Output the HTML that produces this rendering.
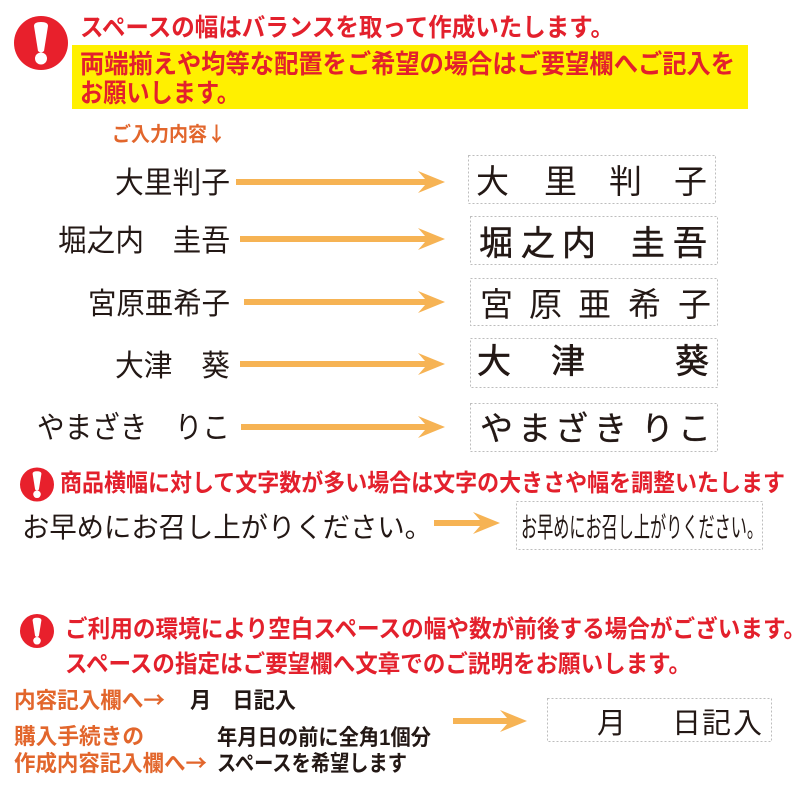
<!DOCTYPE html>
<html lang="ja"><head><meta charset="utf-8"><title>スペースの幅</title>
<style>
html,body{margin:0;padding:0;background:#fff}
svg{display:block}
text{font-family:"Liberation Sans","Noto Sans CJK JP",sans-serif;white-space:pre}
.r{fill:#e3202c;font-weight:700}
.o{fill:#e2662c;font-weight:700}
.k{fill:#231815}
.b{fill:#231815;font-weight:700}
.a{font-family:"Noto Sans CJK JP",sans-serif}
.box{fill:#fff;stroke:#bdbdbd;stroke-width:1;stroke-dasharray:2 2}
.ar{fill:#f6b354}
</style></head><body>
<svg width="800" height="800" viewBox="0 0 800 800" xmlns="http://www.w3.org/2000/svg">
<defs>
<g id="ex"><circle cx="0" cy="0" r="27" fill="#e8202c"/><path d="M-7,-17 Q-7,-21 0,-21 Q7,-21 7,-17 L3,8 Q0,11 -3,8 Z" fill="#fff"/><circle cx="0" cy="15.500" r="6" fill="#fff"/></g>
</defs>

<use href="#ex" transform="translate(41,43)"/>
<text class="r" x="80" y="36" font-size="25" textLength="534" lengthAdjust="spacingAndGlyphs">スペースの幅はバランスを取って作成いたします。</text>
<rect x="72" y="45" width="676" height="64" fill="#fff000"/>
<text class="r" x="80" y="73" font-size="26" textLength="655" lengthAdjust="spacingAndGlyphs">両端揃えや均等な配置をご希望の場合はご要望欄へご記入を</text>
<text class="r" x="80" y="102" font-size="26" textLength="160" lengthAdjust="spacingAndGlyphs">お願いします。</text>
<text class="o" x="112" y="141" font-size="20" textLength="114" lengthAdjust="spacingAndGlyphs">ご入力内容<tspan class="a">↓</tspan></text>

<!-- left labels -->
<text class="k" x="115" y="193" font-size="30" textLength="115" lengthAdjust="spacingAndGlyphs">大里判子</text>
<text class="k" x="58" y="251" font-size="30" textLength="172" lengthAdjust="spacingAndGlyphs">堀之内　圭吾</text>
<text class="k" x="88" y="314" font-size="30" textLength="142" lengthAdjust="spacingAndGlyphs">宮原亜希子</text>
<text class="k" x="115" y="376" font-size="30" textLength="115" lengthAdjust="spacingAndGlyphs">大津　葵</text>
<text class="k" x="37" y="438" font-size="30" textLength="193" lengthAdjust="spacingAndGlyphs">やまざき　りこ</text>

<!-- arrows -->
<path class="ar" d="M236,179 H425 L418,171 L445,182 L418,193 L425,185 H236 Z"/>
<path class="ar" d="M240,236 H425 L418,228 L445,239 L418,250 L425,242 H240 Z"/>
<path class="ar" d="M244,299 H425 L418,291 L445,302 L418,313 L425,305 H244 Z"/>
<path class="ar" d="M240,361 H425 L418,353 L445,364 L418,375 L425,367 H240 Z"/>
<path class="ar" d="M241,424 H425 L418,416 L445,427 L418,438 L425,430 H241 Z"/>
<path class="ar" d="M434,520 H480 L473,512 L500,523 L473,534 L480,526 H434 Z"/>
<path class="ar" d="M453,718 H507 L500,710 L527,721 L500,732 L507,724 H453 Z"/>

<!-- boxes -->
<rect class="box" x="468.500" y="155.500" width="247" height="48"/>
<rect class="box" x="470.500" y="216.500" width="247" height="48"/>
<rect class="box" x="470.500" y="278.500" width="247" height="47"/>
<rect class="box" x="470.500" y="338.500" width="247" height="49"/>
<rect class="box" x="470.500" y="403.500" width="247" height="48"/>
<rect class="box" x="516.500" y="501.500" width="246" height="48"/>
<rect class="box" x="547.500" y="698.500" width="224" height="43"/>

<!-- box text -->
<text class="k" y="193" font-size="33"><tspan x="476">大</tspan><tspan x="544">里</tspan><tspan x="609">判</tspan><tspan x="674">子</tspan></text>
<text class="k" y="255" font-size="34" stroke="#231815" stroke-width=".5"><tspan x="479">堀</tspan><tspan x="521">之</tspan><tspan x="562">内</tspan><tspan x="631">圭</tspan><tspan x="673">吾</tspan></text>
<text class="k" y="316" font-size="33"><tspan x="480">宮</tspan><tspan x="529">原</tspan><tspan x="578">亜</tspan><tspan x="628">希</tspan><tspan x="678">子</tspan></text>
<text class="k" y="373" font-size="34" stroke="#231815" stroke-width=".6"><tspan x="477">大</tspan><tspan x="551">津</tspan><tspan x="675">葵</tspan></text>
<text class="k" y="440" font-size="33" stroke="#231815" stroke-width=".3"><tspan x="480">や</tspan><tspan x="518">ま</tspan><tspan x="555">ざ</tspan><tspan x="594">き</tspan><tspan x="641">り</tspan><tspan x="678">こ</tspan></text>

<!-- section 2 -->
<use href="#ex" transform="translate(37,484.500) scale(.63)"/>
<text class="r" x="60" y="491" font-size="24" textLength="725" lengthAdjust="spacingAndGlyphs">商品横幅に対して文字数が多い場合は文字の大きさや幅を調整いたします</text>
<text class="k" x="22" y="537" font-size="28" textLength="410" lengthAdjust="spacingAndGlyphs">お早めにお召し上がりください。</text>
<text class="k" x="521" y="537" font-size="28" textLength="242" lengthAdjust="spacingAndGlyphs">お早めにお召し上がりください。</text>

<!-- section 3 -->
<use href="#ex" transform="translate(37,631) scale(.63)"/>
<text class="r" x="65" y="637" font-size="24" textLength="741" lengthAdjust="spacingAndGlyphs">ご利用の環境により空白スペースの幅や数が前後する場合がございます。</text>
<text class="r" x="65" y="672" font-size="24" textLength="626" lengthAdjust="spacingAndGlyphs">スペースの指定はご要望欄へ文章でのご説明をお願いします。</text>

<text class="o" x="14" y="708" font-size="22" textLength="151" lengthAdjust="spacingAndGlyphs">内容記入欄へ<tspan class="a">→</tspan></text>
<text class="b" x="190" y="708" font-size="22" textLength="106" lengthAdjust="spacingAndGlyphs">月　日記入</text>
<text class="o" x="14" y="744" font-size="22" textLength="130" lengthAdjust="spacingAndGlyphs">購入手続きの</text>
<text class="o" x="14" y="771" font-size="22" textLength="193" lengthAdjust="spacingAndGlyphs">作成内容記入欄へ<tspan class="a">→</tspan></text>
<text class="b" x="217" y="745" font-size="22" textLength="214" lengthAdjust="spacingAndGlyphs">年月日の前に全角1個分</text>
<text class="b" x="217" y="771" font-size="22" textLength="190" lengthAdjust="spacingAndGlyphs">スペースを希望します</text>
<text class="k" y="733" font-size="29"><tspan x="597">月</tspan><tspan x="672">日</tspan><tspan x="702">記</tspan><tspan x="733">入</tspan></text>
</svg>
</body></html>
